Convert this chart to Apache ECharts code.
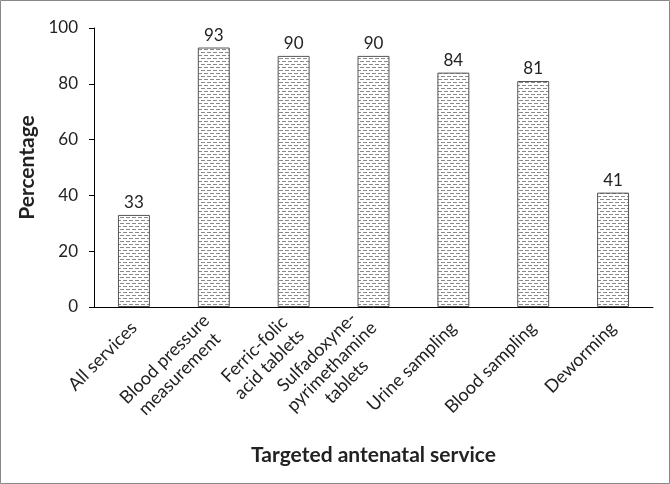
<!DOCTYPE html>
<html><head><meta charset="utf-8">
<script src="https://cdn.jsdelivr.net/npm/echarts@6/dist/echarts.min.js"></script>
<style>html,body{margin:0;padding:0;background:#fff}#c{width:670px;height:484px}</style>
</head><body><div id="c"></div>
<script>
const categories = ['All services','Blood pressure\nmeasurement','Ferric-folic\nacid tablets','Sulfadoxyne-\npyrimethamine\ntablets','Urine sampling','Blood sampling','Deworming'];
const values = [33, 93, 90, 90, 84, 81, 41];
const yTicks = [0, 20, 40, 60, 80, 100];

const pc = document.createElement('canvas');
pc.width = 12; pc.height = 6;
const g = pc.getContext('2d');
g.fillStyle = '#fff'; g.fillRect(0,0,12,6);
g.fillStyle = '#8a8a8a';
g.fillRect(0,1,4,1); g.fillRect(6,1,4,1);
g.fillRect(3,4,4,1); g.fillRect(9,4,3,1); g.fillRect(0,4,1,1);

const chart = echarts.init(document.getElementById('c'));
const font = 'Lato, "Open Sans", sans-serif';
chart.setOption({
  animation:false,
  graphic:[{type:'rect',shape:{x:0.5,y:0.5,width:669,height:483},style:{fill:'none',stroke:'#888',lineWidth:1}}],
  grid:{left:94,right:17,top:28,bottom:177},
  xAxis:{type:'category',data:categories,
    name:'Targeted antenatal service',nameLocation:'middle',nameGap:138,
    nameTextStyle:{fontFamily:font,fontSize:21,fontWeight:'bold',color:'#222'},
    axisLine:{lineStyle:{color:'#000'}},
    axisTick:{alignWithLabel:false,length:5,lineStyle:{color:'#000'}},
    axisLabel:{rotate:45,interval:0,color:'#222',margin:18,
      formatter:v=>v.split('\n').map(s=>'{c|'+s+'}').join('\n'),
      rich:{c:{align:'center',fontFamily:font,fontSize:18,lineHeight:21,color:'#222'}}}},
  yAxis:{type:'value',min:0,max:100,interval:20,
    name:'Percentage',nameLocation:'middle',nameGap:54,
    nameTextStyle:{fontFamily:font,fontSize:21,fontWeight:'bold',color:'#222'},
    axisLine:{show:true,lineStyle:{color:'#000'}},
    axisTick:{show:true,length:5,lineStyle:{color:'#000'}},
    splitLine:{show:false},
    axisLabel:{fontFamily:font,fontSize:17,color:'#222',margin:16,formatter:v=>yTicks.includes(v)?String(v):''}},
  series:[{type:'bar',data:values,barWidth:'40%',
    itemStyle:{color:{image:pc,repeat:'repeat'},borderColor:'#555',borderWidth:1},
    label:{show:true,position:'top',fontFamily:font,fontSize:17,color:'#222',distance:4}}]
});
</script></body></html>
